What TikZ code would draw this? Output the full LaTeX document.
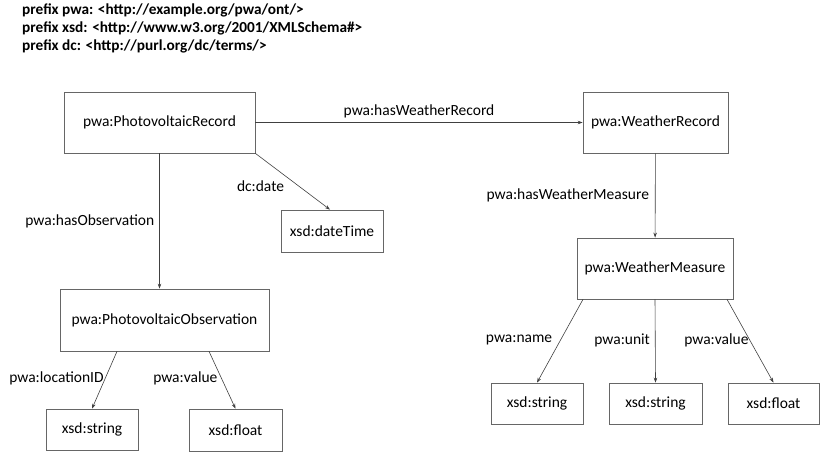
\documentclass[tikz,border=0pt]{standalone}
\usepackage{fontspec}
\setmainfont{Carlito}
\usetikzlibrary{arrows.meta}

\tikzset{
  cls/.style={draw=black!60, line width=0.7pt, rectangle, inner sep=0pt},
  lbl/.style={inner sep=1pt},
  arr/.style={draw=black!75, line width=0.6pt, -{Stealth[length=5pt,width=3.5pt]}}
}

\begin{document}
\begin{tikzpicture}[x=1pt, y=-1pt, font=\fontsize{15.5}{18}\selectfont]
        \useasboundingbox (0,0) rectangle (826,457);
        \node [anchor=north west, align=left, inner sep=0pt,
               font=\fontsize{15.3}{18}\selectfont\bfseries] (pfx) at (22,4)
              {prefix pwa: <http://example.org/pwa/ont/>\\
               prefix xsd: <http://www.w3.org/2001/XMLSchema\#>\\
               prefix dc: <http://purl.org/dc/terms/>};

        \node [cls, minimum width=191pt, minimum height=61pt] (rec) at (159.5,122.5) {pwa:PhotovoltaicRecord};
        \node [cls, minimum width=145pt, minimum height=61pt] (wrec) at (655.5,122.5) {pwa:WeatherRecord};
        \node [cls, minimum width=156pt, minimum height=61pt] (wmeas) at (655,268.5) {pwa:WeatherMeasure};
        \node [cls, minimum width=102pt, minimum height=42pt] (dt) at (332,231) {xsd:dateTime};
        \node [cls, minimum width=209pt, minimum height=62pt] (obs) at (164.5,320) {pwa:PhotovoltaicObservation};
        \node [cls, minimum width=92pt, minimum height=41pt] (str1) at (92,429.5) {xsd:string};
        \node [cls, minimum width=93pt, minimum height=42pt] (flt1) at (235.5,430) {xsd:float};
        \node [cls, minimum width=92pt, minimum height=41pt] (str2) at (537,403.5) {xsd:string};
        \node [cls, minimum width=93pt, minimum height=41pt] (str3) at (655.5,403.5) {xsd:string};
        \node [cls, minimum width=91pt, minimum height=41pt] (flt2) at (773.5,403.5) {xsd:float};

        \draw[arr] (rec) -- node [above, yshift=1pt] {pwa:hasWeatherRecord} (wrec);
        \draw[arr] (rec.south) -- node [left, inner sep=5pt] {pwa:hasObservation} (rec.south |- obs.north);
        \draw[arr] (rec.south east) -- node [pos=0.58, left, xshift=-11pt] {dc:date} ([xshift=-2pt]dt.north);
        \draw[arr] (wrec) -- node [left, inner sep=6pt] {pwa:hasWeatherMeasure} (wmeas);
        \draw[arr] ([xshift=-47.5pt]obs.south) -- node [lbl, pos=0.48, left] {pwa:locationID} (str1.north);
        \draw[arr] ([xshift=44.5pt]obs.south) -- node [lbl, pos=0.48, left, xshift=-3pt] {pwa:value} (flt1.north);
        \draw[arr] ([xshift=-72pt]wmeas.south) -- node [lbl, pos=0.49, left, xshift=-7pt] {pwa:name} (str2.north);
        \draw[arr] (wmeas.south) -- node [lbl, pos=0.49, left, xshift=-4pt] {pwa:unit} (str3.north);
        \draw[arr] ([xshift=72pt]wmeas.south) -- node [lbl, pos=0.49, left] {pwa:value} (flt2.north);
      \end{tikzpicture}
\end{document}
